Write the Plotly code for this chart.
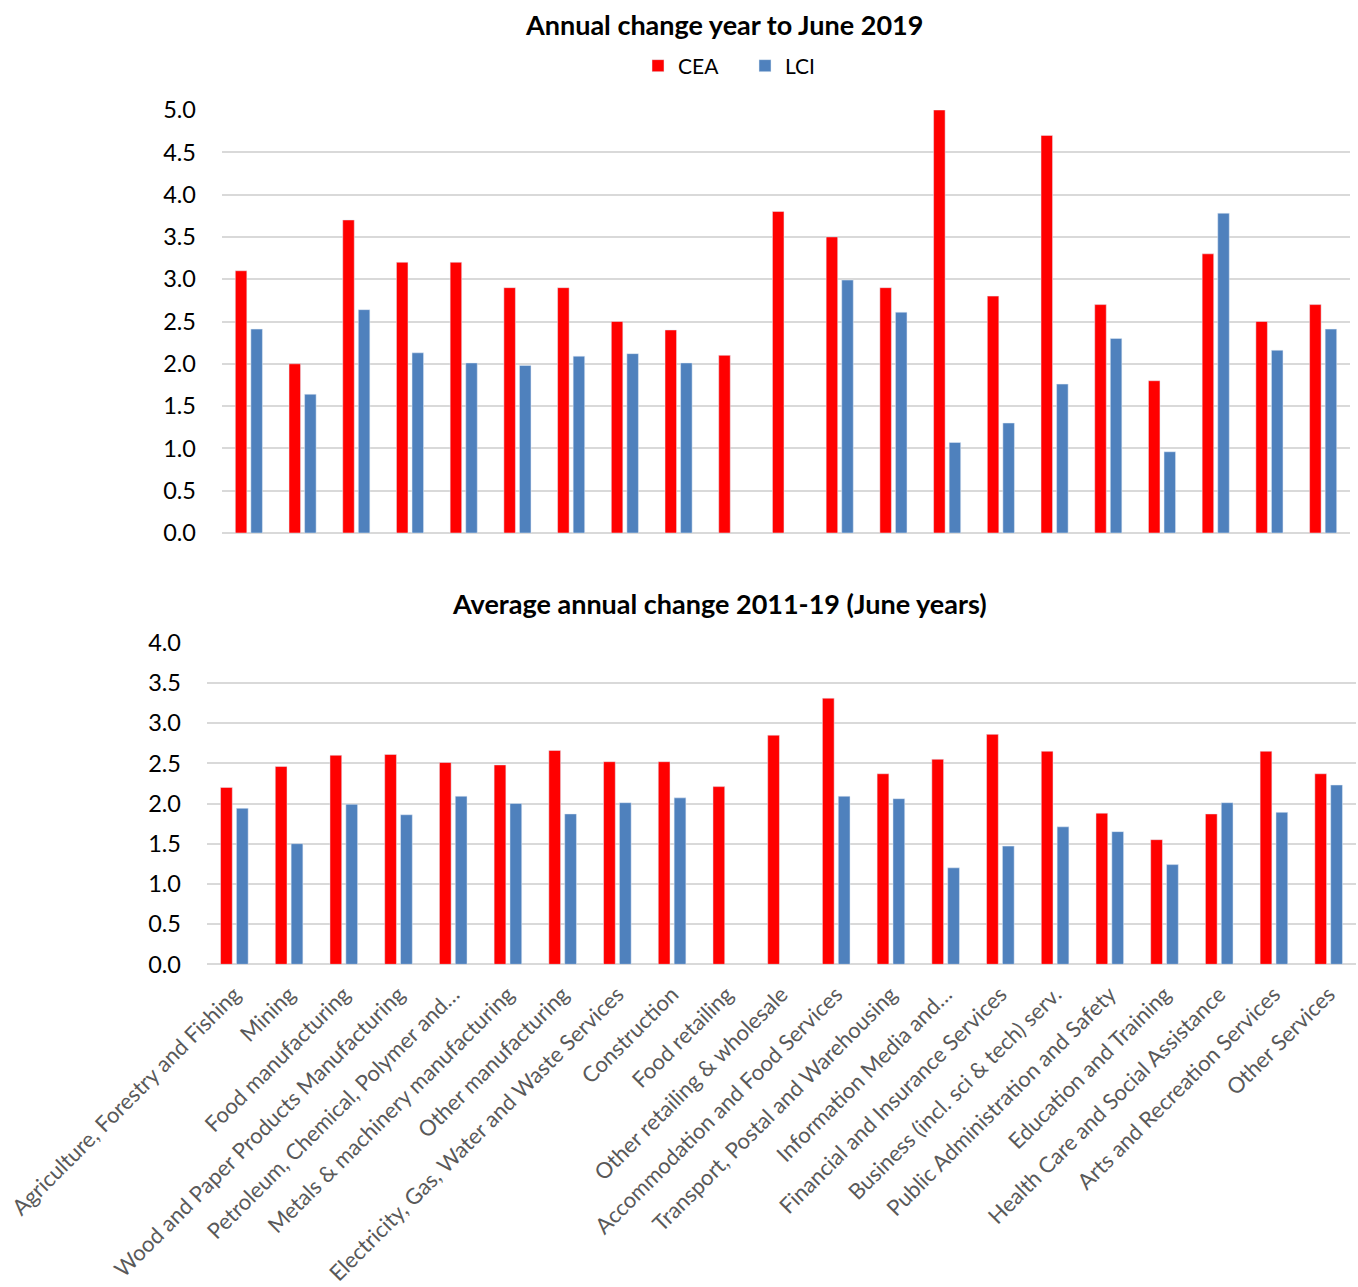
import plotly.graph_objects as go
from plotly.subplots import make_subplots

categories = [
    "Agriculture, Forestry and Fishing",
    "Mining",
    "Food manufacturing",
    "Wood and Paper Products Manufacturing",
    "Petroleum, Chemical, Polymer and…",
    "Metals & machinery manufacturing",
    "Other manufacturing",
    "Electricity, Gas, Water and Waste Services",
    "Construction",
    "Food retailing",
    "Other retailing & wholesale",
    "Accommodation and Food Services",
    "Transport, Postal and Warehousing",
    "Information Media and…",
    "Financial and Insurance Services",
    "Business (incl. sci & tech) serv.",
    "Public Administration and Safety",
    "Education and Training",
    "Health Care and Social Assistance",
    "Arts and Recreation Services",
    "Other Services",
]

# Annual change year to June 2019
cea_annual = [3.1, 2.0, 3.7, 3.2, 3.2, 2.9, 2.9, 2.5, 2.4, 2.1, 3.8,
              3.5, 2.9, 5.0, 2.8, 4.7, 2.7, 1.8, 3.3, 2.5, 2.7]
lci_annual = [2.41, 1.64, 2.64, 2.13, 2.01, 1.98, 2.09, 2.12, 2.01, None, None,
              2.99, 2.61, 1.07, 1.30, 1.76, 2.30, 0.96, 3.78, 2.16, 2.41]

# Average annual change 2011-19 (June years)
cea_avg = [2.20, 2.46, 2.60, 2.61, 2.51, 2.48, 2.66, 2.52, 2.52, 2.21, 2.85,
           3.31, 2.37, 2.55, 2.86, 2.65, 1.88, 1.55, 1.87, 2.65, 2.37]
lci_avg = [1.94, 1.50, 1.99, 1.86, 2.09, 2.00, 1.87, 2.01, 2.07, None, None,
           2.09, 2.06, 1.20, 1.47, 1.71, 1.65, 1.24, 2.01, 1.89, 2.23]

top_ticks = [0.0, 0.5, 1.0, 1.5, 2.0, 2.5, 3.0, 3.5, 4.0, 4.5, 5.0]
bottom_ticks = [0.0, 0.5, 1.0, 1.5, 2.0, 2.5, 3.0, 3.5, 4.0]

RED = "#FF0000"
BLUE = "#4F81BD"
GRID = "#D9D9D9"
FONT = "Lato, Carlito, Calibri, sans-serif"
W, H = 1358, 1287

fig = make_subplots(rows=2, cols=1)

fig.add_trace(go.Bar(x=categories, y=cea_annual, name="CEA", marker_color=RED,
                     legendgroup="CEA"), row=1, col=1)
fig.add_trace(go.Bar(x=categories, y=lci_annual, name="LCI", marker_color=BLUE,
                     legendgroup="LCI"), row=1, col=1)
fig.add_trace(go.Bar(x=categories, y=cea_avg, name="CEA", marker_color=RED,
                     legendgroup="CEA", showlegend=False), row=2, col=1)
fig.add_trace(go.Bar(x=categories, y=lci_avg, name="LCI", marker_color=BLUE,
                     legendgroup="LCI", showlegend=False), row=2, col=1)

def px_x(p):
    return p / W

def px_y(p):
    return 1 - p / H

fig.update_layout(
    width=W, height=H,
    margin=dict(l=0, r=0, t=0, b=0),
    paper_bgcolor="white", plot_bgcolor="white",
    font=dict(family=FONT, color="#000000"),
    barmode="group", bargap=0.42, bargroupgap=0.26,
    showlegend=True,
    legend=dict(orientation="h", x=px_x(638), xanchor="left",
                y=px_y(66), yanchor="middle",
                font=dict(size=21, family=FONT, color="#000000"),
                entrywidth=62, entrywidthmode="pixels",
                bgcolor="rgba(0,0,0,0)", traceorder="normal"),
    xaxis=dict(domain=[px_x(222), px_x(1350)], showticklabels=False,
               showgrid=False, zeroline=False, showline=False, ticks="",
               automargin=False),
    yaxis=dict(domain=[px_y(533), px_y(110)], range=[0, 5],
               tickvals=top_ticks, ticktext=[f"{v:.1f}" for v in top_ticks],
               showgrid=True, gridcolor=GRID, gridwidth=1.5,
               zeroline=True, zerolinecolor=GRID, zerolinewidth=1.5,
               showline=False, ticks="", ticklabelstandoff=25,
               tickfont=dict(size=23.5, family=FONT, color="#000000"),
               automargin=False),
    xaxis2=dict(domain=[px_x(207), px_x(1356)], showgrid=False, zeroline=False,
                showline=False, ticks="", tickangle=-45, ticklabelstandoff=12,
                tickfont=dict(size=22, family=FONT, color="#595959"),
                automargin=False),
    yaxis2=dict(domain=[px_y(964.3), px_y(642.7)], range=[0, 4],
                tickvals=bottom_ticks, ticktext=[f"{v:.1f}" for v in bottom_ticks],
                showgrid=True, gridcolor=GRID, gridwidth=1.5,
                zeroline=True, zerolinecolor=GRID, zerolinewidth=1.5,
                showline=False, ticks="", ticklabelstandoff=25,
                tickfont=dict(size=23.5, family=FONT, color="#000000"),
                automargin=False),
    annotations=[
        dict(text="<b>Annual change year to June 2019</b>", xref="paper", yref="paper",
             x=px_x(724), y=px_y(24), xanchor="center", yanchor="middle",
             showarrow=False, font=dict(size=27, family=FONT, color="#000000")),
        dict(text="<b>Average annual change 2011-19 (June years)</b>", xref="paper", yref="paper",
             x=px_x(719), y=px_y(603), xanchor="center", yanchor="middle",
             showarrow=False, font=dict(size=27, family=FONT, color="#000000")),
    ],
)

fig.write_html("out.html")
